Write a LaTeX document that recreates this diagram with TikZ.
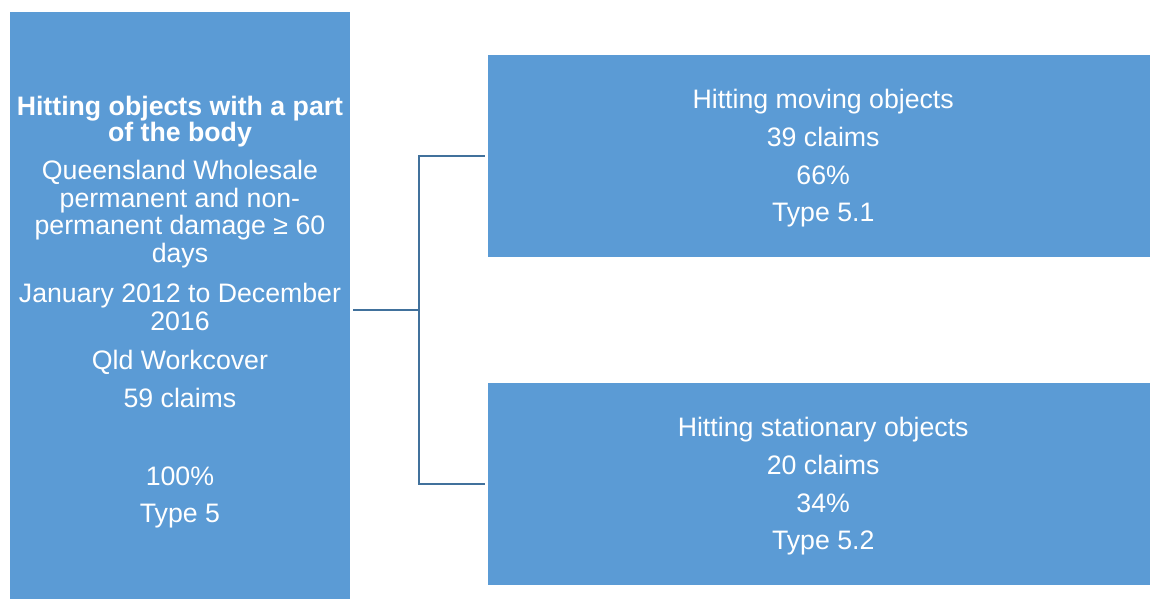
\documentclass[tikz,border=0pt]{standalone}
\usepackage{fontspec}
\setmainfont{Liberation Sans}
\definecolor{boxblue}{HTML}{5B9BD5}
\definecolor{linkblue}{HTML}{41719C}
\begin{document}
\begin{tikzpicture}[x=1pt,y=-1pt,
  box/.style={fill=boxblue, text=white, inner sep=0pt, align=center,
    font=\fontsize{26.7}{27.8}\selectfont, anchor=north west},
  conn/.style={draw=linkblue, line width=2pt}]
\useasboundingbox (0,0) rectangle (1150,599);
\node[box, minimum width=340.5pt, minimum height=596pt] (L) at (9.5,12)
  {\rule{0pt}{23pt}\textbf{Hitting objects with a part}\\[-1.8pt]
   \textbf{of the body}\\[10.2pt]
   Queensland Wholesale\\
   permanent and non-\\
   permanent damage ≥ 60\\
   days\\[12.2pt]
   January 2012 to December\\
   2016\\[11.2pt]
   Qld Workcover\\[10.2pt]
   59 claims\\[50.2pt]
   100\%\\[9.2pt]
   Type 5};
\node[box, minimum width=670pt, minimum height=202pt] (A) at (488,55)
  {\rule{0pt}{23.5pt}Hitting moving objects\\[10pt]
   39 claims\\[10pt]
   66\%\\[10pt]
   Type 5.1};
\node[box, minimum width=670pt, minimum height=202pt] (B) at (488,383)
  {\rule{0pt}{23.5pt}Hitting stationary objects\\[10pt]
   20 claims\\[10pt]
   34\%\\[10pt]
   Type 5.2};
\draw[conn] ([xshift=3pt]L.east) -- ++(66,0) coordinate (J) |- ([xshift=-3pt]A.west);
\draw[conn] (J) |- ([xshift=-3pt]B.west);
\end{tikzpicture}
\end{document}
